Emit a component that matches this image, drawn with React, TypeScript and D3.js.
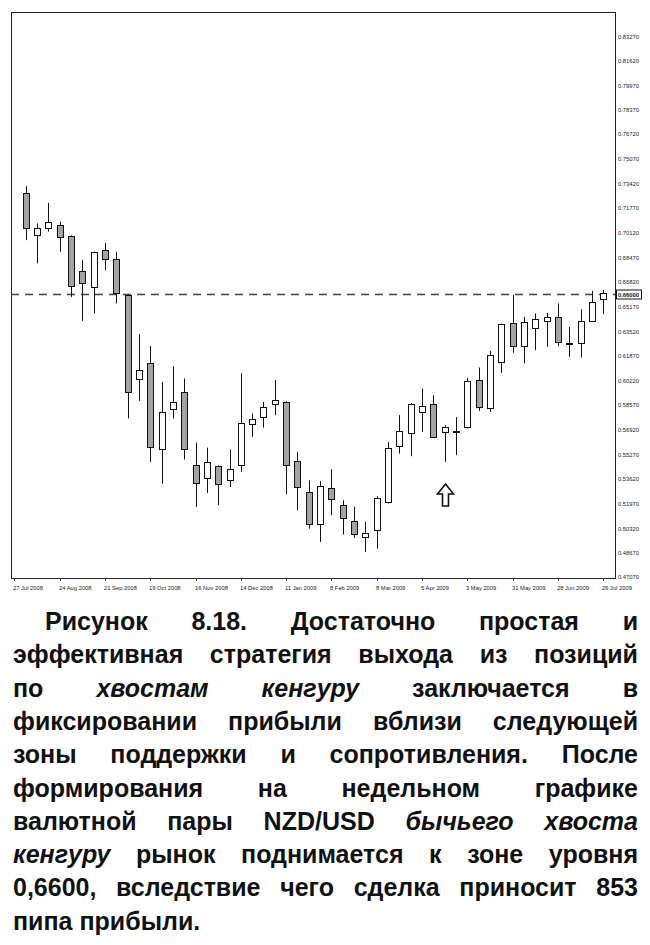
import React, { useRef, useEffect } from "react";
import * as d3 from "d3";

// weekly NZD/USD candles
const openPrices = [
  0.7277, 0.6998, 0.7047, 0.7065, 0.6993, 0.6758, 0.6651, 0.6897, 0.6839, 0.6598,
  0.6032, 0.6143, 0.5563, 0.5831, 0.5945, 0.5456, 0.5373, 0.5449, 0.5355, 0.5456,
  0.5735, 0.5776, 0.5865, 0.588, 0.5487, 0.5277, 0.506, 0.53, 0.5192, 0.508,
  0.4975, 0.502, 0.521, 0.5583, 0.5672, 0.5813, 0.5865, 0.5679, 0.5687, 0.5713,
  0.6026, 0.5836, 0.6148, 0.6406, 0.6254, 0.6372, 0.6419, 0.6446, 0.6272, 0.6272,
  0.6423, 0.6567,
];
const highPrices = [
  0.7326, 0.7076, 0.7214, 0.7087, 0.6996, 0.683, 0.6886, 0.6946, 0.6884, 0.66,
  0.6334, 0.6254, 0.6014, 0.6119, 0.6037, 0.5608, 0.5574, 0.5456, 0.5561, 0.6071,
  0.5802, 0.588, 0.6026, 0.5885, 0.5543, 0.5355, 0.5351, 0.5429, 0.5221, 0.5176,
  0.5076, 0.5248, 0.5612, 0.5791, 0.5873, 0.597, 0.5925, 0.5724, 0.5778, 0.6042,
  0.6111, 0.6222, 0.6405, 0.6598, 0.645, 0.6473, 0.6477, 0.654, 0.6383, 0.65,
  0.6624, 0.6629,
];
const lowPrices = [
  0.6964, 0.6808, 0.702, 0.6886, 0.6584, 0.6423, 0.6473, 0.6763, 0.654, 0.5769,
  0.5887, 0.5478, 0.5333, 0.5769, 0.5494, 0.5176, 0.527, 0.5188, 0.531, 0.5411,
  0.5646, 0.5708, 0.5791, 0.5261, 0.5154, 0.5031, 0.4942, 0.5121, 0.4991, 0.4968,
  0.4875, 0.4897, 0.5199, 0.5534, 0.5516, 0.5679, 0.5639, 0.5478, 0.5523, 0.5702,
  0.582, 0.5813, 0.6075, 0.6209, 0.6138, 0.6227, 0.6249, 0.6254, 0.6182, 0.6178,
  0.6423, 0.6468,
];
const closePrices = [
  0.7043, 0.7047, 0.7083, 0.6986, 0.666, 0.6674, 0.6882, 0.6835, 0.6611, 0.5947,
  0.6097, 0.5578, 0.5813, 0.588, 0.5563, 0.534, 0.5476, 0.5328, 0.5429, 0.5742,
  0.5764, 0.5843, 0.5891, 0.5456, 0.531, 0.506, 0.5315, 0.5228, 0.5105, 0.4998,
  0.5002, 0.5233, 0.5568, 0.5684, 0.5863, 0.5853, 0.5646, 0.5713, 0.5683, 0.6019,
  0.5843, 0.6193, 0.6401, 0.6256, 0.6416, 0.6433, 0.6446, 0.6282, 0.6265, 0.6421,
  0.6551, 0.6611,
];

const priceTicks = [
  0.8327, 0.8162, 0.7997, 0.7837, 0.7672, 0.7507, 0.7342, 0.7177, 0.7012, 0.6847,
  0.6682, 0.6517, 0.6352, 0.6187, 0.6022, 0.5857, 0.5692, 0.5527, 0.5362, 0.5197,
  0.5032, 0.4867, 0.4707,
];
const dateTicks = [
  "27 Jul 2008", "24 Aug 2008", "21 Sep 2008", "19 Oct 2008", "16 Nov 2008",
  "14 Dec 2008", "11 Jan 2009", "8 Feb 2009", "8 Mar 2009", "5 Apr 2009",
  "3 May 2009", "31 May 2009", "28 Jun 2009", "26 Jul 2009",
];
const targetLevel = 0.66;
const arrowMark = { candle: 37, price: 0.533 };

// words in _underscores_ are italic
const captionLines = [
  "Рисунок 8.18. Достаточно простая и",
  "эффективная стратегия выхода из позиций",
  "по _хвостам_ _кенгуру_ заключается в",
  "фиксировании прибыли вблизи следующей",
  "зоны поддержки и сопротивления. После",
  "формирования на недельном графике",
  "валютной пары NZD/USD _бычьего_ _хвоста_",
  "_кенгуру_ рынок поднимается к зоне уровня",
  "0,6600, вследствие чего сделка приносит 853",
  "пипа прибыли.",
];

const App: React.FC = () => {
  const svgRef = useRef<SVGSVGElement>(null);

  useEffect(() => {
    const svg = d3.select(svgRef.current);
    svg.selectAll("*").remove();

    const left = 11;
    const right = 615;
    const top = 12;
    const bottom = 578;
    const axisFont = "'Liberation Sans', Arial, sans-serif";

    const parseDate = d3.timeParse("%d %b %Y");
    const firstWeek = new Date(2008, 7, 3);
    const candleDates = openPrices.map((_, i) => d3.timeWeek.offset(firstWeek, i));

    const x = d3
      .scaleTime()
      .domain([new Date(2008, 6, 27), new Date(2009, 6, 26)])
      .range([14.3, 603.3]);

    const y = d3.scaleLinear().domain([0.4707, 0.8327]).range([577, 36.7]);

    // frame
    svg
      .append("rect")
      .attr("x", left + 0.5)
      .attr("y", top + 0.5)
      .attr("width", right - left)
      .attr("height", bottom - top)
      .attr("fill", "none")
      .attr("stroke", "#222")
      .attr("stroke-width", 1);

    // price labels
    svg
      .append("g")
      .selectAll("text")
      .data(priceTicks)
      .join("text")
      .attr("x", right + 3)
      .attr("y", (d) => y(d))
      .attr("dy", "0.35em")
      .attr("font-family", axisFont)
      .attr("font-size", 5.8)
      .attr("fill", "#222")
      .text((d) => d3.format(".5f")(d));

    // date labels
    const dateG = svg.append("g");
    dateTicks.forEach((label) => {
      const px = Math.round(x(parseDate(label) as Date));
      dateG
        .append("line")
        .attr("x1", px + 0.5)
        .attr("x2", px + 0.5)
        .attr("y1", bottom)
        .attr("y2", bottom + 3)
        .attr("stroke", "#444");
      dateG
        .append("text")
        .attr("x", px - 1)
        .attr("y", bottom + 12)
        .attr("font-family", axisFont)
        .attr("font-size", 5.8)
        .attr("fill", "#222")
        .text(label);
    });

    // level line
    const ly = Math.round(y(targetLevel)) + 0.5;
    svg
      .append("line")
      .attr("x1", left)
      .attr("x2", right)
      .attr("y1", ly)
      .attr("y2", ly)
      .attr("stroke", "#444")
      .attr("stroke-width", 1.5)
      .attr("stroke-dasharray", "8,6");
    svg
      .append("rect")
      .attr("x", right + 1.5)
      .attr("y", ly - 4.5)
      .attr("width", 25)
      .attr("height", 9)
      .attr("fill", "#fff")
      .attr("stroke", "#111");
    svg
      .append("text")
      .attr("x", right + 3)
      .attr("y", ly)
      .attr("dy", "0.35em")
      .attr("font-family", axisFont)
      .attr("font-size", 5.8)
      .attr("font-weight", "bold")
      .attr("fill", "#111")
      .text(d3.format(".5f")(targetLevel));

    // candles
    const candles = svg.append("g");
    openPrices.forEach((open, i) => {
      const close = closePrices[i];
      const cx = Math.round(x(candleDates[i]));
      candles
        .append("line")
        .attr("x1", cx + 0.5)
        .attr("x2", cx + 0.5)
        .attr("y1", y(highPrices[i]))
        .attr("y2", y(lowPrices[i]))
        .attr("stroke", "#111")
        .attr("stroke-width", 1);
      const yTop = Math.round(y(Math.max(open, close)));
      const yBot = Math.round(y(Math.min(open, close)));
      candles
        .append("rect")
        .attr("x", cx - 3 + 0.5)
        .attr("y", yTop + 0.5)
        .attr("width", 6)
        .attr("height", Math.max(1, yBot - yTop))
        .attr("fill", close < open ? "#a3a3a3" : "#fff")
        .attr("stroke", "#111")
        .attr("stroke-width", 1);
    });

    // hollow arrow under the kangaroo tail
    const ax = Math.round(x(candleDates[arrowMark.candle])) + 0.5;
    const ay = y(arrowMark.price);
    const arrow = d3.path();
    arrow.moveTo(ax, ay);
    arrow.lineTo(ax + 8, ay + 10);
    arrow.lineTo(ax + 3, ay + 10);
    arrow.lineTo(ax + 3, ay + 22);
    arrow.lineTo(ax - 3, ay + 22);
    arrow.lineTo(ax - 3, ay + 10);
    arrow.lineTo(ax - 8, ay + 10);
    arrow.closePath();
    svg
      .append("path")
      .attr("d", arrow.toString())
      .attr("fill", "#fff")
      .attr("stroke", "#111")
      .attr("stroke-width", 1.6)
      .attr("stroke-linejoin", "miter");

    // caption, justified, first line indented
    const textLeft = 13;
    const textRight = 638;
    const indent = 32;
    const firstBaseline = 630;
    const lineStep = 33.3;
    const cap = svg.append("g");
    captionLines.forEach((line, li) => {
      const words = line.split(" ");
      const baseline = firstBaseline + li * lineStep;
      const start = li === 0 ? textLeft + indent : textLeft;
      const nodes = words.map((w) => {
        const italic = w.startsWith("_");
        return cap
          .append("text")
          .attr("y", baseline)
          .attr("font-family", axisFont)
          .attr("font-size", 25)
          .attr("font-weight", "bold")
          .attr("font-style", italic ? "italic" : "normal")
          .attr("fill", "#111")
          .text(w.replace(/_/g, ""));
      });
      const widths = nodes.map((n) => (n.node() as SVGTextElement).getComputedTextLength());
      const total = d3.sum(widths);
      const last = li === captionLines.length - 1;
      const gap = last || words.length < 2 ? 7 : (textRight - start - total) / (words.length - 1);
      let cursor = start;
      nodes.forEach((n, k) => {
        n.attr("x", cursor);
        cursor += widths[k] + gap;
      });
    });
  }, []);

  return (
    <svg
      ref={svgRef}
      width={650}
      height={945}
      style={{ position: "absolute", left: 0, top: 0, background: "#fff" }}
    />
  );
};

export default App;
